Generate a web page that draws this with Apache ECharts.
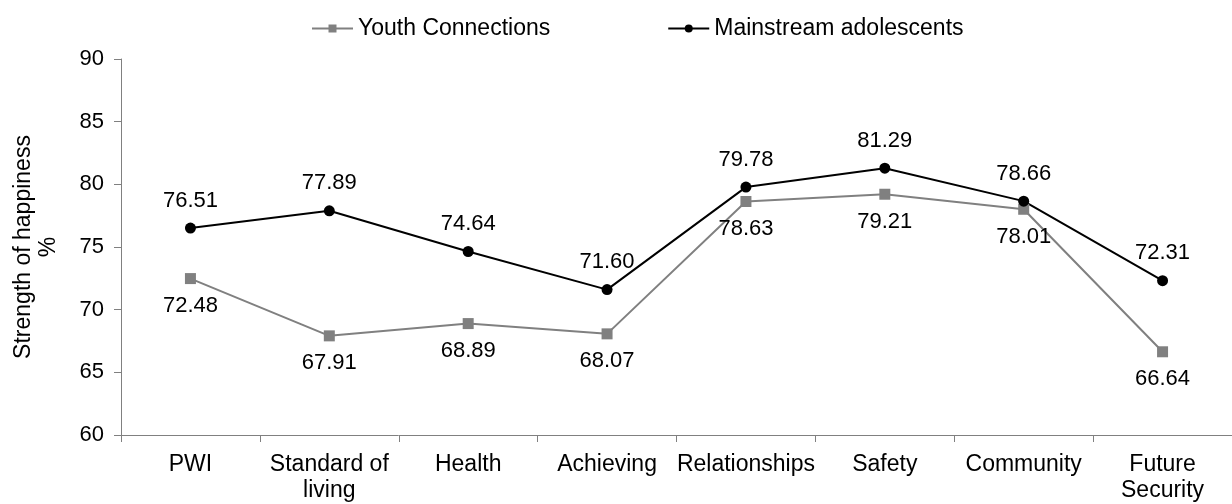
<!DOCTYPE html>
<html><head><meta charset="utf-8">
<script src="https://cdn.jsdelivr.net/npm/echarts@6/dist/echarts.min.js"></script>
<style>html,body{margin:0;padding:0;background:#fff}#c{width:1232px;height:504px}</style>
</head><body><div id="c"></div>
<script>
const categories = ['PWI', 'Standard of\nliving', 'Health', 'Achieving', 'Relationships', 'Safety', 'Community', 'Future\nSecurity'];
const youthConnections = [72.48, 67.91, 68.89, 68.07, 78.63, 79.21, 78.01, 66.64];
const mainstreamAdolescents = [76.51, 77.89, 74.64, 71.60, 79.78, 81.29, 78.66, 72.31];
const yTicks = [60, 65, 70, 75, 80, 85, 90];

const FONT = 'Liberation Sans, Arial, sans-serif';
const chart = echarts.init(document.getElementById('c'), null, {renderer: 'canvas'});
chart.setOption({
  animation: false,
  backgroundColor: '#fff',
  textStyle: {fontFamily: FONT},
  legend: {
    top: 12,
    left: 306,
    itemGap: 117,
    itemWidth: 41,
    itemHeight: 10,
    textStyle: {fontFamily: FONT, fontSize: 23, color: '#000'},
    data: ['Youth Connections', 'Mainstream adolescents']
  },
  grid: {left: 121, right: -11, top: 59, bottom: 68, containLabel: false},
  xAxis: {
    type: 'category',
    data: categories,
    boundaryGap: true,
    axisLine: {lineStyle: {color: '#808080', width: 1}},
    axisTick: {show: true, length: 7, inside: false, lineStyle: {color: '#808080'}},
    axisLabel: {fontFamily: FONT, fontSize: 23, color: '#000', margin: 17, interval: 0, lineHeight: 26},
    splitLine: {show: false}
  },
  yAxis: {
    type: 'value',
    min: yTicks[0],
    max: yTicks[yTicks.length - 1],
    interval: 5,
    name: 'Strength of happiness\n%',
    nameLocation: 'middle',
    nameGap: 60,
    nameTextStyle: {fontFamily: FONT, fontSize: 23, color: '#000', lineHeight: 25},
    axisLine: {show: true, lineStyle: {color: '#808080', width: 1}},
    axisTick: {show: true, length: 7, lineStyle: {color: '#808080'}},
    axisLabel: {fontFamily: FONT, fontSize: 22, color: '#000', margin: 17},
    splitLine: {show: false}
  },
  series: [
    {
      name: 'Youth Connections',
      type: 'line',
      data: youthConnections,
      symbol: 'rect',
      symbolSize: 11,
      color: '#808080',
      lineStyle: {color: '#808080', width: 2},
      itemStyle: {color: '#808080'},
      label: {show: true, position: 'bottom', distance: 11, fontFamily: FONT, fontSize: 22, color: '#000',
        formatter: p => p.value.toFixed(2)}
    },
    {
      name: 'Mainstream adolescents',
      type: 'line',
      data: mainstreamAdolescents,
      symbol: 'circle',
      symbolSize: 11,
      color: '#000',
      lineStyle: {color: '#000', width: 2},
      itemStyle: {color: '#000'},
      label: {show: true, position: 'top', distance: 11, fontFamily: FONT, fontSize: 22, color: '#000',
        formatter: p => p.value.toFixed(2)}
    }
  ]
});
</script></body></html>
